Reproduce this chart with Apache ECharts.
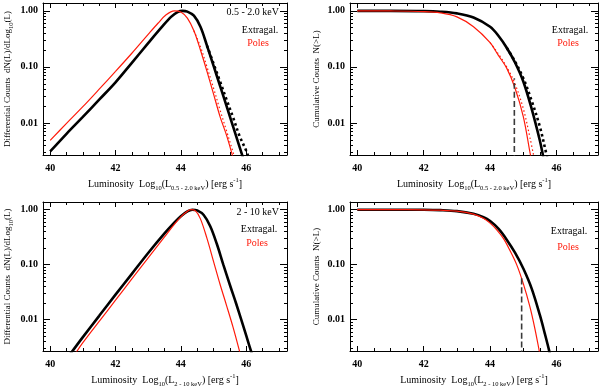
<!DOCTYPE html>
<html>
<head>
<meta charset="utf-8">
<script src="https://cdn.jsdelivr.net/npm/echarts@6/dist/echarts.min.js"></script>
<style>
  html, body { margin: 0; padding: 0; background: #fff; }
  #chart { width: 600px; height: 389px; }
</style>
</head>
<body>
<div id="chart"></div>
<script>
// values: [log10 L, normalised counts]
var xMajor = [40, 42, 44, 46];
var xMinor = [40.5, 41, 41.5, 42.5, 43, 43.5, 44.5, 45, 45.5, 46.5, 47];
var yMajor = [0.01, 0.1, 1];
var yMinor = [0.003, 0.004, 0.005, 0.006, 0.007, 0.008, 0.009,
              0.02, 0.03, 0.04, 0.05, 0.06, 0.07, 0.08, 0.09,
              0.2, 0.3, 0.4, 0.5, 0.6, 0.7, 0.8, 0.9];

// 0.5 - 2.0 keV, differential
var softDiffExtragal = [[40.0, 0.0031], [40.5, 0.0064], [41.0, 0.0128], [41.5, 0.026], [42.0, 0.053],
  [42.5, 0.118], [43.0, 0.265], [43.4, 0.5], [43.7, 0.78], [43.9, 0.95], [44.05, 1.0], [44.2, 0.97],
  [44.4, 0.82], [44.6, 0.52], [44.8, 0.24], [45.0, 0.105], [45.2, 0.046], [45.4, 0.02], [45.6, 0.0086],
  [45.8, 0.0037], [46.0, 0.0016]];
var softDiffExtragalAlt = [[44.8, 0.24], [45.0, 0.115], [45.2, 0.055], [45.4, 0.026], [45.6, 0.0125],
  [45.8, 0.0058], [46.0, 0.0032], [46.1, 0.0022]];
var softDiffPoles = [[40.0, 0.0049], [40.5, 0.0098], [41.0, 0.0195], [41.5, 0.04], [42.0, 0.083],
  [42.5, 0.175], [43.0, 0.38], [43.3, 0.6], [43.55, 0.85], [43.8, 1.0], [44.0, 0.95], [44.2, 0.74],
  [44.4, 0.44], [44.6, 0.2], [44.8, 0.083], [45.0, 0.033], [45.2, 0.013], [45.4, 0.006], [45.6, 0.0024],
  [45.7, 0.0015]];
var softDiffPolesAlt = [[44.4, 0.44], [44.6, 0.23], [44.8, 0.1], [45.0, 0.042], [45.2, 0.017],
  [45.4, 0.0072], [45.6, 0.003], [45.7, 0.0019]];

// 0.5 - 2.0 keV, cumulative
var softCumExtragal = [[40.0, 1.0], [41.0, 1.0], [42.0, 0.99], [42.5, 0.965], [43.0, 0.9], [43.5, 0.76],
  [44.0, 0.52], [44.25, 0.36], [44.5, 0.22], [44.75, 0.12], [45.0, 0.055], [45.25, 0.018],
  [45.5, 0.0048], [45.6, 0.0025], [45.7, 0.0013]];
var softCumExtragalAlt = [[44.5, 0.22], [44.75, 0.125], [45.0, 0.063], [45.25, 0.025], [45.5, 0.0085],
  [45.7, 0.0027], [45.8, 0.0015]];
var softCumPoles = [[40.0, 1.0], [41.0, 0.995], [42.0, 0.97], [42.5, 0.92], [43.0, 0.78], [43.5, 0.52],
  [44.0, 0.27], [44.25, 0.16], [44.5, 0.095], [44.75, 0.042], [45.0, 0.013], [45.2, 0.003],
  [45.35, 0.001]];
var softCumPolesAlt = [[44.0, 0.27], [44.25, 0.17], [44.5, 0.1], [44.75, 0.05], [45.0, 0.018],
  [45.2, 0.0055], [45.35, 0.002]];
var softCut = [[44.73, 0.001], [44.73, 0.063]];

// 2 - 10 keV, differential
var hardDiffExtragal = [[40.6, 0.0023], [41.0, 0.0048], [41.5, 0.0117], [42.0, 0.0284], [42.5, 0.068],
  [43.0, 0.163], [43.5, 0.37], [43.8, 0.58], [44.0, 0.76], [44.2, 0.93], [44.35, 1.0], [44.5, 0.97],
  [44.7, 0.8], [44.9, 0.5], [45.1, 0.24], [45.3, 0.1], [45.5, 0.043], [45.7, 0.019], [45.9, 0.008],
  [46.1, 0.0033], [46.25, 0.0017]];
var hardDiffPoles = [[40.75, 0.0023], [41.0, 0.0038], [41.5, 0.0093], [42.0, 0.0225], [42.5, 0.055],
  [43.0, 0.133], [43.5, 0.32], [43.8, 0.54], [44.0, 0.74], [44.15, 0.89], [44.3, 1.0], [44.45, 0.95],
  [44.6, 0.68], [44.8, 0.3], [45.0, 0.115], [45.2, 0.044], [45.4, 0.018], [45.6, 0.0072],
  [45.8, 0.0026], [45.9, 0.0015]];

// 2 - 10 keV, cumulative
var hardCumExtragal = [[40.0, 1.0], [41.0, 1.0], [42.0, 0.995], [42.5, 0.98], [43.0, 0.94], [43.5, 0.84],
  [43.8, 0.73], [44.0, 0.62], [44.25, 0.45], [44.5, 0.285], [44.75, 0.165], [45.0, 0.085], [45.25, 0.037],
  [45.5, 0.012], [45.65, 0.0055], [45.78, 0.0027], [45.9, 0.0013]];
var hardCumPoles = [[40.0, 1.0], [41.0, 1.0], [42.0, 0.995], [42.5, 0.98], [43.0, 0.94], [43.5, 0.83],
  [43.8, 0.7], [44.0, 0.57], [44.2, 0.43], [44.4, 0.3], [44.6, 0.18], [44.8, 0.1], [45.0, 0.045],
  [45.2, 0.017], [45.35, 0.0068], [45.48, 0.0027], [45.58, 0.0013]];
var hardCut = [[44.95, 0.001], [44.95, 0.063]];

var X_MIN = 39.78, X_MAX = 47.25;
var Y_MIN = 0.00268, Y_MAX = 1.38;
var FONT = 'Liberation Serif';

var chart = echarts.init(document.getElementById('chart'), null, { renderer: 'canvas' });

var nameRich = {
  sub: { fontFamily: FONT, fontSize: 6.5, lineHeight: 8, verticalAlign: 'bottom', color: '#000' },
  sup: { fontFamily: FONT, fontSize: 6.5, lineHeight: 8, verticalAlign: 'top', color: '#000' }
};

var grids = [
  { left: 41, top: 3, width: 246, height: 152 },
  { left: 350, top: 3, width: 248, height: 152 },
  { left: 41, top: 202, width: 246, height: 153 },
  { left: 350, top: 202, width: 248, height: 153 }
];

var xNames = [
  'Luminosity  Log{sub|10}(L{sub|0.5 - 2.0 keV}) [erg s{sup|-1}]',
  'Luminosity  Log{sub|10}(L{sub|0.5 - 2.0 keV}) [erg s{sup|-1}]',
  'Luminosity  Log{sub|10}(L{sub|2 - 10 keV}) [erg s{sup|-1}]',
  'Luminosity  Log{sub|10}(L{sub|2 - 10 keV}) [erg s{sup|-1}]'
];
var yNames = [
  'Differential Counts  dN(L)/dLog{sub|10}(L)',
  'Cumulative Counts  N(>L)',
  'Differential Counts  dN(L)/dLog{sub|10}(L)',
  'Cumulative Counts  N(>L)'
];
var yGaps = [28, 25, 28, 25];

var xAxes = [], yAxes = [];
grids.forEach(function (g, i) {
  ['bottom', 'top'].forEach(function (pos) {
    xAxes.push({
      gridIndex: i, type: 'value', min: X_MIN, max: X_MAX, position: pos,
      axisLine: { show: true, onZero: false, lineStyle: { color: '#000', width: 1 } },
      axisTick: { show: true, inside: true, length: 5, customValues: xMajor, lineStyle: { color: '#000' } },
      axisLabel: pos === 'bottom' ? {
        customValues: xMajor, margin: 8, color: '#000', fontFamily: FONT, fontWeight: 'bold', fontSize: 10
      } : { show: false },
      splitLine: { show: false },
      name: pos === 'bottom' ? xNames[i] : '',
      nameLocation: 'middle', nameGap: 22,
      nameTextStyle: { fontFamily: FONT, fontSize: 10, color: '#000', lineHeight: 15, rich: nameRich }
    });
    xAxes.push({
      gridIndex: i, type: 'value', min: X_MIN, max: X_MAX, position: pos,
      axisLine: { show: false },
      axisTick: { show: true, inside: true, length: 3, customValues: xMinor, lineStyle: { color: '#000' } },
      axisLabel: { show: false },
      splitLine: { show: false }
    });
  });
  ['left', 'right'].forEach(function (pos) {
    yAxes.push({
      gridIndex: i, type: 'log', logBase: 10, min: Y_MIN, max: Y_MAX, position: pos,
      axisLine: { show: true, lineStyle: { color: '#000', width: 1 } },
      axisTick: { show: true, inside: true, length: 7, customValues: yMajor, lineStyle: { color: '#000' } },
      axisLabel: pos === 'left' ? {
        customValues: yMajor, margin: 5, color: '#000', fontFamily: FONT, fontWeight: 'bold', fontSize: 10,
        formatter: function (v) { return Number(v).toFixed(2); }
      } : { show: false },
      splitLine: { show: false },
      name: pos === 'left' ? yNames[i] : '',
      nameLocation: 'middle', nameGap: yGaps[i],
      nameTextStyle: { fontFamily: FONT, fontSize: 9, color: '#000', lineHeight: 14, rich: nameRich }
    });
    yAxes.push({
      gridIndex: i, type: 'log', logBase: 10, min: Y_MIN, max: Y_MAX, position: pos,
      axisLine: { show: false },
      axisTick: { show: true, inside: true, length: 3, customValues: yMinor, lineStyle: { color: '#000' } },
      axisLabel: { show: false },
      splitLine: { show: false }
    });
  });
});

function curve(panel, data, color, width, type) {
  return {
    type: 'line', xAxisIndex: panel * 4, yAxisIndex: panel * 4, data: data,
    smooth: 0.35, showSymbol: false, silent: true, clip: true,
    lineStyle: { color: color, width: width, type: type || 'solid' }
  };
}

var BLACK = '#000000', RED = '#ff1a0a', CUT = '#3a3a3a';

var series = [
  curve(0, softDiffExtragal, BLACK, 2.6),
  curve(0, softDiffExtragalAlt, BLACK, 2.6, [2.5, 3]),
  curve(0, softDiffPoles, RED, 1.2),
  curve(0, softDiffPolesAlt, RED, 1.2, [1.5, 2.5]),
  curve(1, softCumExtragal, BLACK, 2.6),
  curve(1, softCumExtragalAlt, BLACK, 2.6, [2.5, 3]),
  curve(1, softCumPoles, RED, 1.2),
  curve(1, softCumPolesAlt, RED, 1.2, [1.5, 2.5]),
  curve(1, softCut, CUT, 1.6, [6, 3]),
  curve(2, hardDiffExtragal, BLACK, 2.6),
  curve(2, hardDiffPoles, RED, 1.2),
  curve(3, hardCumExtragal, BLACK, 2.6),
  curve(3, hardCumPoles, RED, 1.2),
  curve(3, hardCut, CUT, 1.6, [6, 3])
];

function label(x, y, text, color, align) {
  return {
    type: 'text', x: x, y: y, silent: true,
    style: { text: text, fill: color, font: '10px "' + FONT + '"', align: align || 'center', verticalAlign: 'middle' }
  };
}

var graphic = [
  label(279, 12, '0.5 - 2.0 keV', '#000', 'right'),
  label(260, 30, 'Extragal.', '#000'),
  label(258, 43, 'Poles', RED),
  label(570, 30, 'Extragal.', '#000'),
  label(568, 43, 'Poles', RED),
  label(279, 212, '2 - 10 keV', '#000', 'right'),
  label(259, 229, 'Extragal.', '#000'),
  label(257, 243, 'Poles', RED),
  label(569, 231, 'Extragal.', '#000'),
  label(568, 247, 'Poles', RED)
];

chart.setOption({
  backgroundColor: '#ffffff',
  animation: false,
  grid: grids,
  xAxis: xAxes,
  yAxis: yAxes,
  series: series,
  graphic: graphic
});
</script>
</body>
</html>
